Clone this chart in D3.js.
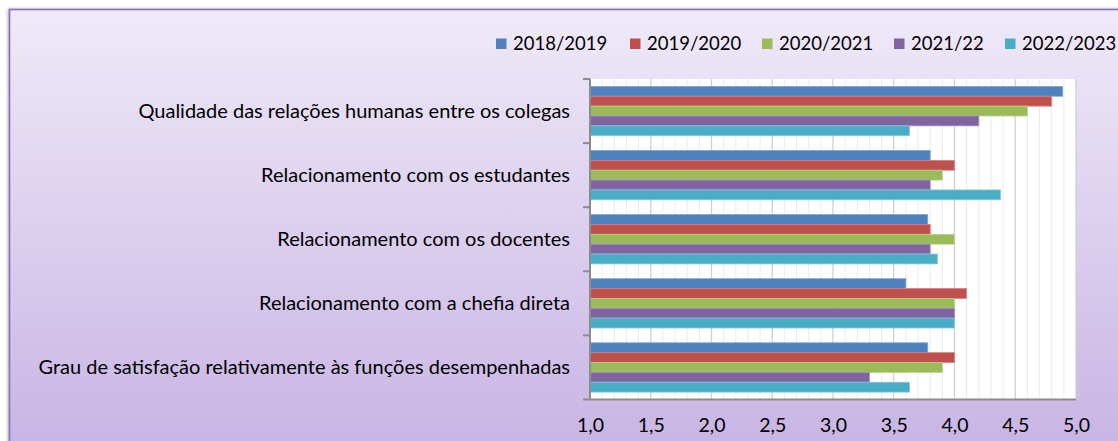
<!DOCTYPE html>
<html><head><meta charset="utf-8">
<script src="https://cdn.jsdelivr.net/npm/d3@7/dist/d3.min.js"></script>
<style>html,body{margin:0;padding:0;background:#fff;}svg{display:block;}</style>
</head><body>
<svg id="c" width="1118" height="441"></svg>
<script>
const categories = [
  "Qualidade das relações humanas entre os colegas",
  "Relacionamento com os estudantes",
  "Relacionamento com os docentes",
  "Relacionamento com a chefia direta",
  "Grau de satisfação relativamente às funções desempenhadas"
];
const seriesNames = ["2018/2019", "2019/2020", "2020/2021", "2021/22", "2022/2023"];
const s2018 = [4.89, 3.80, 3.78, 3.60, 3.78];
const s2019 = [4.80, 4.00, 3.80, 4.10, 4.00];
const s2020 = [4.60, 3.90, 4.00, 4.00, 3.90];
const s2021 = [4.20, 3.80, 3.80, 4.00, 3.30];
const s2022 = [3.63, 4.38, 3.86, 4.00, 3.63];
const seriesValues = [s2018, s2019, s2020, s2021, s2022];
const xTicks = [1.0, 1.5, 2.0, 2.5, 3.0, 3.5, 4.0, 4.5, 5.0];
const colors = ["#4F81BD", "#C0504D", "#9BBB59", "#8064A2", "#4BACC6"];
const strokes = ["#7EA3D3", "#D9817F", "#BAD38A", "#A48DC0", "#86CADB"];

const svg = d3.select("#c");
const FONT = "Lato, 'Open Sans', sans-serif";
const defs = svg.append("defs");
const g1 = defs.append("linearGradient").attr("id","bg").attr("x1",0).attr("y1",0).attr("x2",0).attr("y2",1);
g1.append("stop").attr("offset","0%").attr("stop-color","#EFEAF9");
g1.append("stop").attr("offset","100%").attr("stop-color","#C7B3E3");
const f = defs.append("filter").attr("id","sh").attr("x","-5%").attr("y","-5%").attr("width","110%").attr("height","110%");
f.append("feDropShadow").attr("dx",-1).attr("dy",0).attr("stdDeviation",1.5).attr("flood-color","#888").attr("flood-opacity",0.6);

svg.append("rect").attr("x",9.5).attr("y",9.5).attr("width",1130).attr("height",450)
  .attr("fill","url(#bg)").attr("stroke","#8A70BC").attr("stroke-width",1.6).attr("filter","url(#sh)");

const pLeft = 590, pRight = 1076, pTop = 79, pBottom = 399.5;
const x = d3.scaleLinear().domain([1,5]).range([pLeft,pRight]);
const y = d3.scaleBand().domain(categories).range([pTop,pBottom]).padding(0);
const inner = d3.scaleBand().domain(seriesNames).range([7.4, y.bandwidth()-7.4]).padding(0);

svg.append("rect").attr("x",pLeft).attr("y",pTop).attr("width",pRight-pLeft).attr("height",pBottom-pTop).attr("fill","#fff");

// minor gridlines
const minor = d3.range(10, 51).map(v => v/10).filter(v => Math.round(v*10)%5 !== 0);
svg.append("g").selectAll("line").data(minor).join("line")
  .attr("x1",d=>x(d)).attr("x2",d=>x(d)).attr("y1",pTop).attr("y2",pBottom)
  .attr("stroke","#EBEBEB").attr("stroke-width",1);
svg.append("g").selectAll("line").data(xTicks.slice(1)).join("line")
  .attr("x1",d=>x(d)).attr("x2",d=>x(d)).attr("y1",pTop).attr("y2",pBottom)
  .attr("stroke","#D0D0D0").attr("stroke-width",1.3);

// bars
const bars = svg.append("g");
categories.forEach((c, ci) => {
  seriesNames.forEach((s, si) => {
    bars.append("rect")
      .attr("x", x(1))
      .attr("y", y(c) + inner(s))
      .attr("width", x(seriesValues[si][ci]) - x(1))
      .attr("height", inner.bandwidth())
      .attr("fill", colors[si])
      .attr("stroke", strokes[si]).attr("stroke-width", 0.8);
  });
});

// x axis
const xAxis = d3.axisBottom(x).tickValues(xTicks).tickSize(0).tickPadding(19)
  .tickFormat(d => d3.format(".1f")(d).replace(".", ","));
const xa = svg.append("g").attr("transform",`translate(0,${pBottom})`).call(xAxis);
xa.select(".domain").remove();
xa.selectAll("text").attr("font-family",FONT).attr("font-size",19.5).attr("fill","#000");
svg.append("line").attr("x1",pLeft-7).attr("x2",pRight).attr("y1",pBottom).attr("y2",pBottom)
  .attr("stroke","#8C8C8C").attr("stroke-width",2);

// y axis
const ya = svg.append("g").attr("transform",`translate(${pLeft},0)`);
ya.append("line").attr("x1",0).attr("x2",0).attr("y1",pTop).attr("y2",pBottom).attr("stroke","#8C8C8C").attr("stroke-width",2);
const bounds = categories.map(c => y(c));
ya.selectAll("line.t").data(bounds).join("line").attr("class","t")
  .attr("x1",-7).attr("x2",0).attr("y1",d=>d).attr("y2",d=>d).attr("stroke","#8C8C8C").attr("stroke-width",2);
ya.selectAll("text").data(categories).join("text")
  .attr("x",-20).attr("y",d=>y(d)+y.bandwidth()/2).attr("dy","0.35em")
  .attr("text-anchor","end").attr("font-family",FONT).attr("font-size",20).attr("fill","#000")
  .text(d=>d);

// legend
const legendX = [496, 630, 762, 894, 1005];
const lg = svg.append("g");
seriesNames.forEach((s, i) => {
  lg.append("rect").attr("x",legendX[i]).attr("y",38.5).attr("width",10.5).attr("height",10.5).attr("fill",colors[i]);
  lg.append("text").attr("x",legendX[i]+17).attr("y",44).attr("dy","0.35em")
    .attr("font-family",FONT).attr("font-size",18.5).attr("fill","#000").text(s);
});
</script>
</body></html>
